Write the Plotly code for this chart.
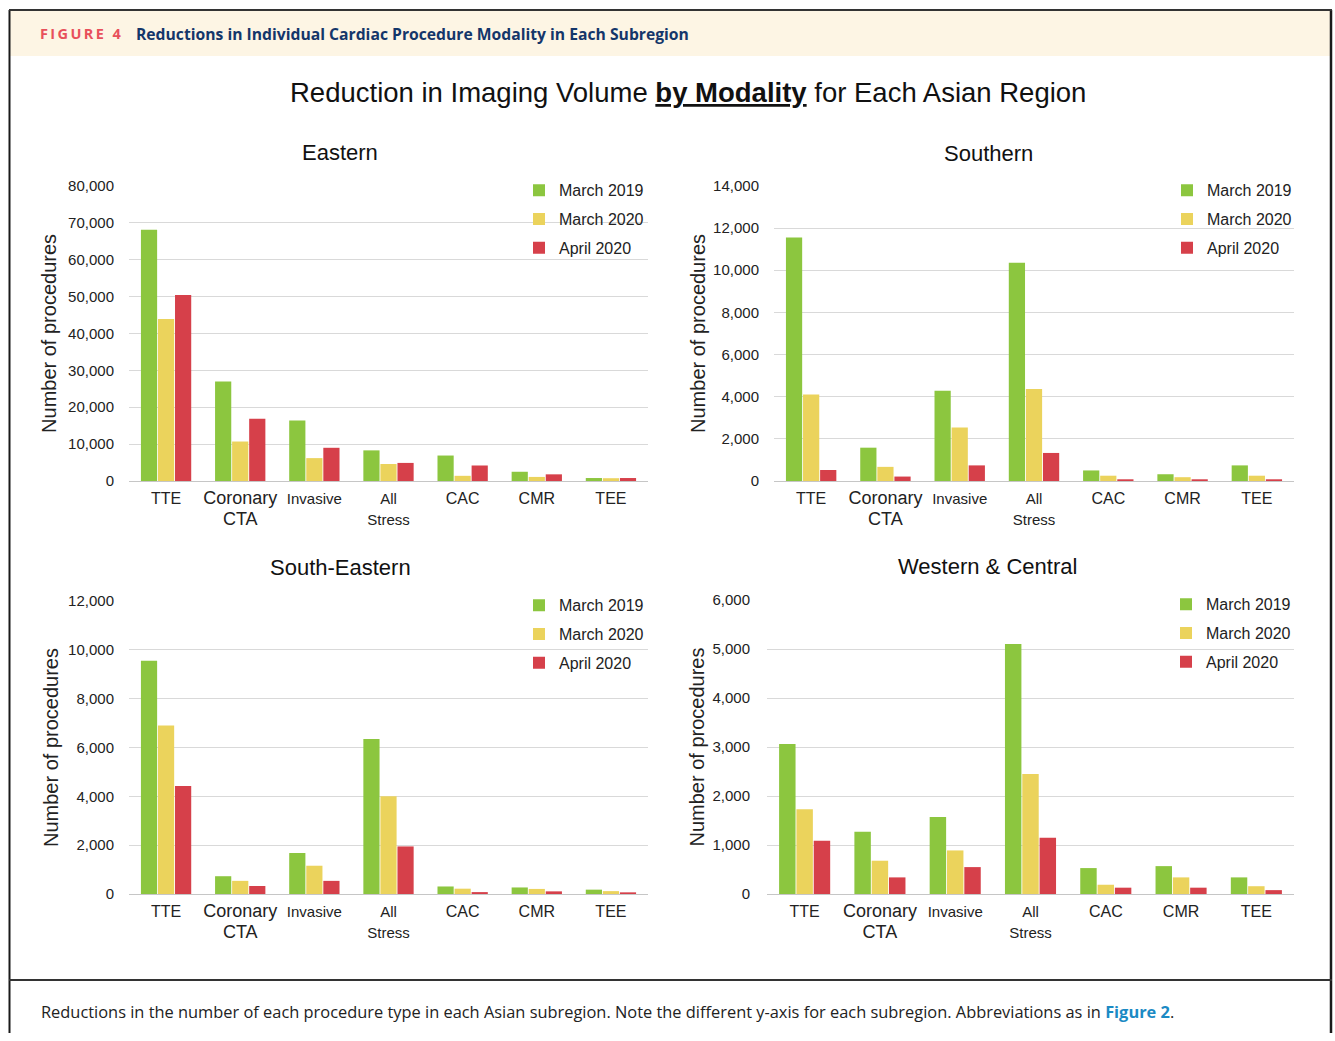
import plotly.graph_objects as go

W, H = 1335, 1041

# The photographed page is compressed vertically a little (measured: shown_y = 8.1 + 0.9835 * page_y),
# so vertical positions (given in target-picture pixels) are converted back to page pixels.
V_OFF, V_SCALE = 8.1, 0.9835


def px(x):
    return x / W


def to_page(y):
    return (y - V_OFF) / V_SCALE


def py(y):
    return 1 - to_page(y) / H


# ---------------- data ----------------
categories = ["TTE", "Coronary CTA", "Invasive", "All Stress", "CAC", "CMR", "TEE"]
tick_labels = [
    "TTE",
    "<span style='font-size:18px'>Coronary</span><br><span style='font-size:18px'>CTA</span>",
    "<span style='font-size:15px'>Invasive</span>",
    "<span style='font-size:15px'>All</span><br><span style='font-size:15px'>Stress</span>",
    "CAC",
    "CMR",
    "TEE",
]
series_names = ["March 2019", "March 2020", "April 2020"]

eastern_mar2019 = [68100, 27000, 16400, 8300, 6900, 2500, 800]
eastern_mar2020 = [43900, 10700, 6200, 4600, 1400, 1100, 750]
eastern_apr2020 = [50400, 16900, 9000, 4900, 4200, 1800, 800]

southern_mar2019 = [11550, 1580, 4280, 10350, 500, 320, 740]
southern_mar2020 = [4100, 670, 2540, 4360, 250, 180, 250]
southern_apr2020 = [520, 210, 740, 1330, 80, 80, 80]

se_mar2019 = [9550, 730, 1680, 6350, 310, 270, 180]
se_mar2020 = [6900, 540, 1160, 4000, 220, 210, 120]
se_apr2020 = [4420, 330, 540, 1950, 80, 110, 70]

wc_mar2019 = [3060, 1270, 1570, 5100, 530, 570, 340]
wc_mar2020 = [1730, 680, 890, 2450, 190, 340, 160]
wc_apr2020 = [1090, 340, 550, 1150, 130, 130, 80]

region_names = ["Eastern", "Southern", "South-Eastern", "Western & Central"]
y_max = [80000, 14000, 12000, 6000]
y_step = [10000, 2000, 2000, 1000]

colors = ["#8cc63f", "#ebd35c", "#d6404a"]

regions = [
    [eastern_mar2019, eastern_mar2020, eastern_apr2020],
    [southern_mar2019, southern_mar2020, southern_apr2020],
    [se_mar2019, se_mar2020, se_apr2020],
    [wc_mar2019, wc_mar2020, wc_apr2020],
]

# ---------------- layout geometry (target pixels) ----------------
plot_boxes = [  # x0, x1, ytop, ybottom
    (129, 648, 185, 480),
    (774, 1294, 185, 480),
    (129, 648, 600, 893),
    (767, 1294, 599, 893),
]
tick_standoff = [14, 14, 14, 16]
title_standoff = [6, 2, 4, 2]
title_pos = [(340, 152), (988, 153), (340, 567), (987, 566)]
legend_pos = [(519, 190), (1167, 190), (519, 605), (1166, 604)]  # left x, first item centre y

FONT = "Liberation Sans, Arial, sans-serif"

fig = go.Figure()

for i, series in enumerate(regions):
    suffix = "" if i == 0 else str(i + 1)
    for j, vals in enumerate(series):
        fig.add_trace(
            go.Bar(
                x=categories,
                y=vals,
                name=series_names[j],
                marker=dict(color=colors[j], line=dict(width=0)),
                xaxis="x" + suffix,
                yaxis="y" + suffix,
                legend="legend" + suffix,
                legendgroup=f"g{i}_{j}",
                showlegend=True,
            )
        )

layout = dict(
    width=W,
    height=H,
    margin=dict(l=0, r=0, t=0, b=0),
    paper_bgcolor="white",
    plot_bgcolor="white",
    barmode="group",
    bargap=0.31,
    bargroupgap=0.05,
    font=dict(family=FONT, color="#222222", size=16),
    showlegend=True,
)

for i, (x0, x1, yt, yb) in enumerate(plot_boxes):
    suffix = "" if i == 0 else str(i + 1)
    layout["xaxis" + suffix] = dict(
        domain=[px(x0), px(x1)],
        anchor="y" + suffix,
        tickmode="array",
        tickvals=categories,
        ticktext=tick_labels,
        tickfont=dict(size=16, color="#222222", family=FONT),
        ticklabelstandoff=3,
        showline=True,
        linecolor="#c6c6c6",
        linewidth=1,
        showgrid=False,
        ticks="",
        fixedrange=True,
    )
    layout["yaxis" + suffix] = dict(
        domain=[py(yb), py(yt)],
        anchor="x" + suffix,
        range=[0, y_max[i]],
        dtick=y_step[i],
        tick0=0,
        tickformat=",",
        tickfont=dict(size=15, color="#222222", family=FONT),
        ticklabelstandoff=tick_standoff[i],
        showgrid=True,
        gridcolor="#d9d9d9",
        gridwidth=1,
        zeroline=False,
        showline=False,
        ticks="",
        title=dict(text="Number of procedures", font=dict(size=20, color="#222222", family=FONT),
                   standoff=title_standoff[i]),
        fixedrange=True,
    )
    lx, ly = legend_pos[i]
    layout["legend" + suffix] = dict(
        x=px(lx),
        y=1 - (to_page(ly) - 18) / H,
        xanchor="left",
        yanchor="top",
        xref="paper",
        yref="paper",
        bgcolor="rgba(0,0,0,0)",
        font=dict(size=16, color="#222222", family=FONT),
        traceorder="grouped",
        tracegroupgap=5,
        itemwidth=30,
    )

fig.update_layout(**layout)

annotations = []
for i, name in enumerate(region_names):
    tx, ty = title_pos[i]
    annotations.append(dict(
        x=px(tx), y=py(ty), xref="paper", yref="paper", text=name, showarrow=False,
        xanchor="center", yanchor="middle", font=dict(size=22, color="#111111", family=FONT)))

annotations.append(dict(
    x=px(688), y=py(92), xref="paper", yref="paper",
    text="Reduction in Imaging Volume <b><u>by Modality</u></b> for Each Asian Region",
    showarrow=False, xanchor="center", yanchor="middle",
    font=dict(size=27.5, color="#111111", family=FONT)))

annotations.append(dict(
    x=px(38), y=py(33), xref="paper", yref="paper",
    text="<b>F\u2009I\u2009G\u2009U\u2009R\u2009E\u2009 \u20094</b>",
    showarrow=False, xanchor="left", yanchor="middle",
    font=dict(size=14.5, color="#e8505b", family="Open Sans, sans-serif")))
annotations.append(dict(
    x=px(134), y=py(33), xref="paper", yref="paper",
    text="<b>Reductions in Individual Cardiac Procedure Modality in Each Subregion</b>",
    showarrow=False, xanchor="left", yanchor="middle",
    font=dict(size=15.7, color="#14366a", family="Open Sans, sans-serif")))
annotations.append(dict(
    x=px(39), y=py(1010), xref="paper", yref="paper",
    text="Reductions in the number of each procedure type in each Asian subregion. Note the different y-axis for each subregion. Abbreviations as in <b><span style='color:#1b8ac4'>Figure 2</span></b>.",
    showarrow=False, xanchor="left", yanchor="middle",
    font=dict(size=16.4, color="#222222", family="Open Sans, sans-serif")))

shapes = [
    dict(type="rect", xref="paper", yref="paper", x0=px(10), x1=px(1330), y0=py(55), y1=py(9),
         fillcolor="#fdf5e4", line=dict(width=0), layer="below"),
    dict(type="line", xref="paper", yref="paper", x0=px(9.5), x1=px(9.5), y0=0, y1=py(9),
         line=dict(color="#1a1a1a", width=2)),
    dict(type="line", xref="paper", yref="paper", x0=px(1331), x1=px(1331), y0=0, y1=py(9),
         line=dict(color="#1a1a1a", width=2.5)),
    dict(type="line", xref="paper", yref="paper", x0=px(9), x1=px(1332), y0=py(9), y1=py(9),
         line=dict(color="#333333", width=2)),
    dict(type="line", xref="paper", yref="paper", x0=px(9), x1=px(1332), y0=py(979), y1=py(979),
         line=dict(color="#333333", width=2)),
]

fig.update_layout(annotations=annotations, shapes=shapes)

fig.write_html(
    "out.html",
    config={"displayModeBar": False},
    post_script="document.body.style.margin='0';document.body.style.overflow='hidden';",
)
